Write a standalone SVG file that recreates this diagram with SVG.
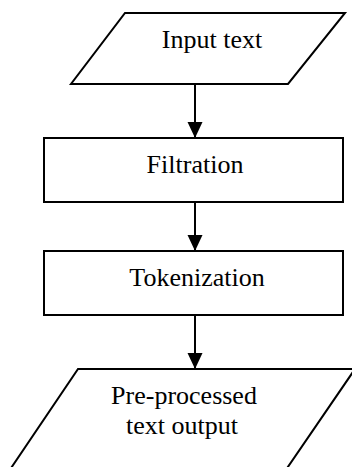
<svg xmlns="http://www.w3.org/2000/svg" width="352" height="467" viewBox="0 0 352 467">
  <style>
    .shape { fill: #ffffff; stroke: #000000; stroke-width: 2; stroke-linejoin: miter; }
    .label { font-family: "Liberation Serif", "Times New Roman", serif; font-size: 26px; fill: #000000; text-anchor: middle; }
    .conn { stroke: #000000; stroke-width: 2; fill: none; }
  </style>
  <defs>
    <marker id="arrow" markerUnits="userSpaceOnUse" markerWidth="16" markerHeight="17" refX="16" refY="7.5" orient="auto">
      <polygon points="0,0 16,7.5 0,15" fill="#000000"/>
    </marker>
  </defs>
  <rect width="352" height="467" fill="#ffffff"/>
  <g id="connectors">
    <line class="conn" x1="195" y1="84" x2="195" y2="138" marker-end="url(#arrow)"/>
    <line class="conn" x1="195" y1="202" x2="195" y2="251" marker-end="url(#arrow)"/>
    <line class="conn" x1="195" y1="315" x2="195" y2="369" marker-end="url(#arrow)"/>
  </g>
  <g id="input">
    <polygon class="shape" points="125,13 345,13 288,84 71,84"/>
    <text class="label" x="212" y="48">Input text</text>
  </g>
  <g id="filtration">
    <rect class="shape" x="44" y="138" width="299" height="64"/>
    <text class="label" x="195" y="173">Filtration</text>
  </g>
  <g id="tokenization">
    <rect class="shape" x="44" y="251" width="299" height="64"/>
    <text class="label" x="197" y="286">Tokenization</text>
  </g>
  <g id="output">
    <polygon class="shape" points="78,369 355,369 281,477 5,477"/>
    <text class="label" x="184" y="404">Pre-processed</text>
    <text class="label" x="182" y="434">text output</text>
  </g>
</svg>
